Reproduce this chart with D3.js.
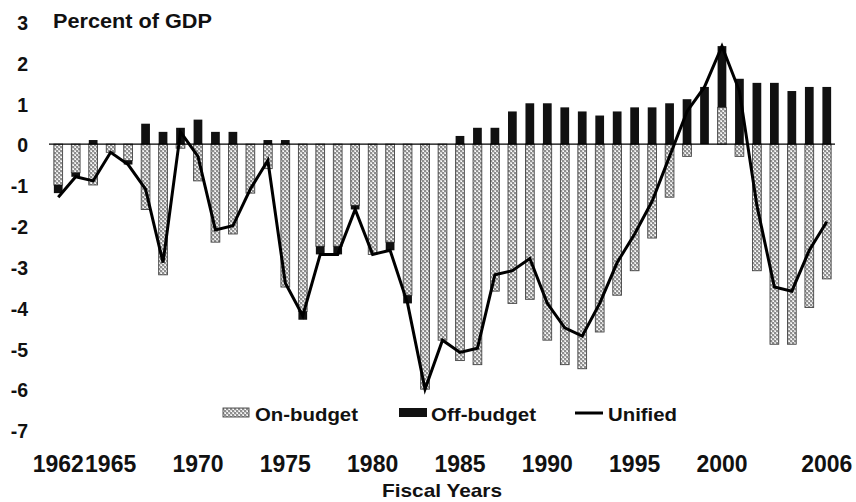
<!DOCTYPE html>
<html><head><meta charset="utf-8">
<script src="https://cdn.jsdelivr.net/npm/d3@7"></script>
<style>body{margin:0;background:#fff}svg{display:block}text{font-family:"Liberation Sans",Arial,sans-serif;font-weight:bold;fill:#111}</style>
</head><body>
<svg id="c" width="856" height="502"></svg>
<script>
const years = d3.range(1962, 2007);
const onBudget = [-1.0,-0.7,-1.0,-0.2,-0.4,-1.6,-3.2,-0.1,-0.9,-2.4,-2.2,-1.2,-0.6,-3.5,-4.1,-2.5,-2.5,-1.5,-2.7,-2.4,-3.7,-6.0,-4.8,-5.3,-5.4,-3.6,-3.9,-3.8,-4.8,-5.4,-5.5,-4.6,-3.7,-3.1,-2.3,-1.3,-0.3,0.0,0.9,-0.3,-3.1,-4.9,-4.9,-4.0,-3.3];
const offBudget = [-0.2,-0.1,0.1,0.0,-0.1,0.5,0.3,0.4,0.6,0.3,0.3,0.0,0.1,0.1,-0.2,-0.2,-0.2,-0.1,0.0,-0.2,-0.2,0.0,0.0,0.2,0.4,0.4,0.8,1.0,1.0,0.9,0.8,0.7,0.8,0.9,0.9,1.0,1.1,1.4,1.5,1.6,1.5,1.5,1.3,1.4,1.4];
const unified = [-1.3,-0.8,-0.9,-0.2,-0.5,-1.1,-2.9,0.3,-0.3,-2.1,-2.0,-1.1,-0.4,-3.4,-4.2,-2.7,-2.7,-1.6,-2.7,-2.6,-3.9,-6.0,-4.8,-5.1,-5.0,-3.2,-3.1,-2.8,-3.9,-4.5,-4.7,-3.9,-2.9,-2.2,-1.4,-0.3,0.8,1.4,2.4,1.3,-1.5,-3.5,-3.6,-2.6,-1.9];
const xTickYears = [1962,1965,1970,1975,1980,1985,1990,1995,2000,2006];
const yTicks = [3,2,1,0,-1,-2,-3,-4,-5,-6,-7];
const seriesNames = ["On-budget","Off-budget","Unified"];

const svg = d3.select("#c");
const defs = svg.append("defs");
const pat = defs.append("pattern").attr("id","hatch").attr("patternUnits","userSpaceOnUse").attr("width",4).attr("height",4);
pat.append("rect").attr("width",4).attr("height",4).attr("fill","#8e8e8e");
pat.append("rect").attr("x",0).attr("y",0).attr("width",2).attr("height",2).attr("fill","#d6d6d6");
pat.append("rect").attr("x",2).attr("y",2).attr("width",2).attr("height",2).attr("fill","#d6d6d6");
pat.append("rect").attr("x",1).attr("y",1).attr("width",1).attr("height",1).attr("fill","#ffffff");
pat.append("rect").attr("x",3).attr("y",3).attr("width",1).attr("height",1).attr("fill","#ffffff");

const x = d3.scaleBand().domain(years).range([49.5, 835.5]).paddingInner(0.5).paddingOuter(0.25);
const y = d3.scaleLinear().domain([-7, 3]).range([430, 21.6]);
const bw = x.bandwidth();

const data = years.map((yr,i)=>({yr, on:onBudget[i], off:offBudget[i], u:unified[i]}));
svg.append("g").selectAll("rect").data(data).join("rect")
  .attr("x", d=>x(d.yr)).attr("width", bw)
  .attr("y", d=>y(Math.max(0,d.on))).attr("height", d=>Math.abs(y(d.on)-y(0)))
  .attr("fill","url(#hatch)").attr("stroke","#444").attr("stroke-width",0.9);

svg.append("g").selectAll("rect").data(data.filter(d=>d.off!==0)).join("rect")
  .attr("x", d=>x(d.yr)).attr("width", bw)
  .attr("y", d=>{
     const base = (d.off>0) ? Math.max(0,d.on) : Math.min(0,d.on);
     const top = base + d.off;
     return y(Math.max(base, top));
  })
  .attr("height", d=>Math.abs(y(0)-y(Math.abs(d.off))))
  .attr("fill","#111");

svg.append("line").attr("x1",49).attr("x2",835).attr("y1",y(0)).attr("y2",y(0)).attr("stroke","#000").attr("stroke-width",1.2);

const line = d3.line().x(d=>x(d.yr)+bw/2).y(d=>y(d.u));
svg.append("path").datum(data).attr("d",line).attr("fill","none").attr("stroke","#000").attr("stroke-width",3).attr("stroke-linejoin","miter");

const yAxis = d3.axisLeft(y).tickValues(yTicks).tickSize(0).tickPadding(0).tickFormat(d=>String(d));
const ya = svg.append("g").attr("transform","translate(28,0)").call(yAxis);
ya.select(".domain").remove();
ya.selectAll("text").attr("font-size",19.5).attr("font-family","Liberation Sans, Arial, sans-serif").attr("font-weight","bold").attr("fill","#111").attr("dy","0.4em");

const xAxis = d3.axisBottom(x).tickValues(xTickYears).tickSize(0).tickPadding(0);
const xa = svg.append("g").attr("transform","translate(0,450)").call(xAxis);
xa.select(".domain").remove();
xa.selectAll("text").attr("font-size",23).attr("font-family","Liberation Sans, Arial, sans-serif").attr("font-weight","bold").attr("fill","#111").attr("dy","0.96em").attr("y",0);

svg.append("text").attr("x",53).attr("y",28).attr("font-size",19.5).attr("textLength",159).attr("lengthAdjust","spacingAndGlyphs").text("Percent of GDP");
svg.append("text").attr("x",442).attr("y",497).attr("text-anchor","middle").attr("font-size",19).attr("textLength",120).attr("lengthAdjust","spacingAndGlyphs").text("Fiscal Years");

const lg = svg.append("g");
lg.append("rect").attr("x",223).attr("y",408).attr("width",26).attr("height",9).attr("fill","url(#hatch)").attr("stroke","#444").attr("stroke-width",0.9);
lg.append("text").attr("x",255).attr("y",421).attr("font-size",18.5).attr("textLength",103).attr("lengthAdjust","spacingAndGlyphs").text(seriesNames[0]);
lg.append("rect").attr("x",399).attr("y",408).attr("width",28).attr("height",9).attr("fill","#111");
lg.append("text").attr("x",431).attr("y",421).attr("font-size",18.5).attr("textLength",105).attr("lengthAdjust","spacingAndGlyphs").text(seriesNames[1]);
lg.append("line").attr("x1",575).attr("x2",603).attr("y1",413).attr("y2",413).attr("stroke","#000").attr("stroke-width",3);
lg.append("text").attr("x",608).attr("y",421).attr("font-size",18.5).attr("textLength",69).attr("lengthAdjust","spacingAndGlyphs").text(seriesNames[2]);
</script>
</body></html>
